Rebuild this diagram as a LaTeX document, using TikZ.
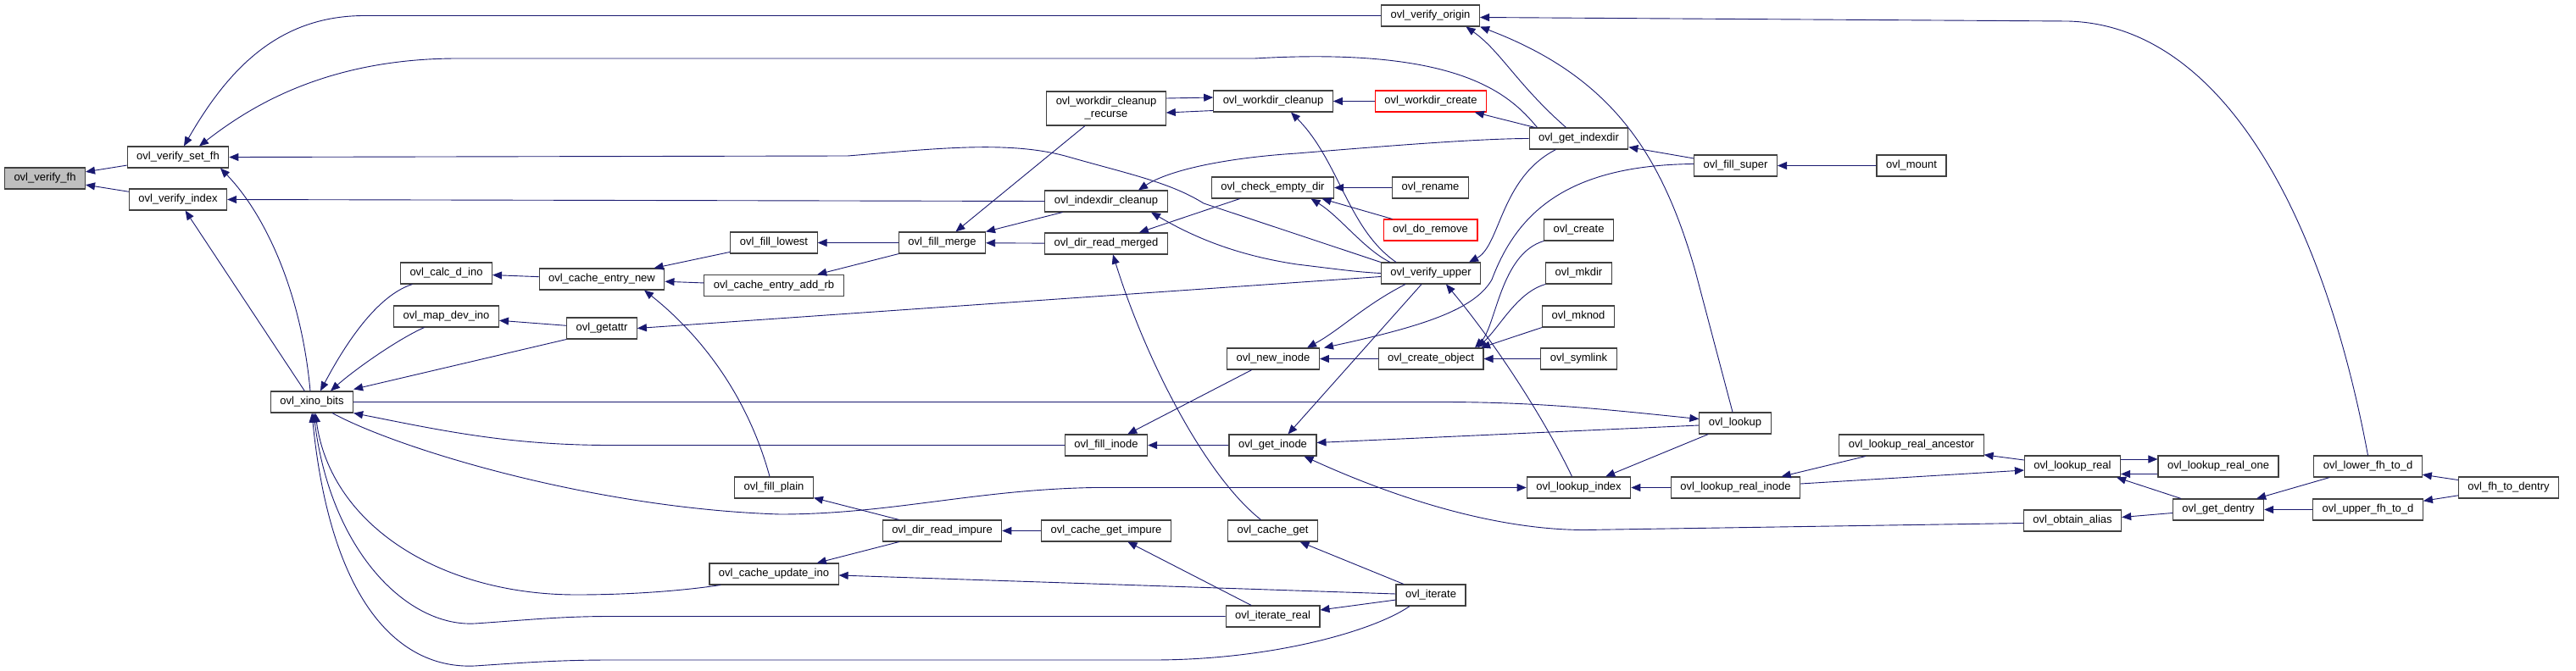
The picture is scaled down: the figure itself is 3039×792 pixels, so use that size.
\documentclass[tikz,border=0pt]{standalone}
\usepackage{fontspec}
\setmainfont{Liberation Sans}
\usetikzlibrary{arrows.meta}
\definecolor{EdgeBlue}{HTML}{191970}
\definecolor{BoxLine}{HTML}{404040}
\definecolor{RootFill}{HTML}{BFBFBF}

\begin{document}
\begin{tikzpicture}[x=1pt,y=-1pt,>={Triangle[length=11pt,width=9pt]},
  fn/.style={draw=BoxLine,line width=1.1pt,fill=white,minimum height=25pt,inner xsep=11pt,inner ysep=0pt,font=\fontsize{13}{15}\selectfont},
  root/.style={fn,fill=RootFill},
  redfn/.style={fn,draw=red},
  cb/.style={draw=EdgeBlue,line width=0.9pt,<-}]
  \fill[white] (0,0) rectangle (3039,792);

  \node[root] (fh) at (53,210.5) {ovl\_verify\_fh};
  \node[fn] (setfh) at (210,185.5) {ovl\_verify\_set\_fh};
  \node[fn] (vindex) at (210,235.5) {ovl\_verify\_index};
  \node[fn] (xino) at (368,474.5) {ovl\_xino\_bits};
  \node[fn] (calcd) at (526.5,322.5) {ovl\_calc\_d\_ino};
  \node[fn] (mapdev) at (526.5,373.5) {ovl\_map\_dev\_ino};
  \node[fn] (cenew) at (710,329.5) {ovl\_cache\_entry\_new};
  \node[fn] (getattr) at (710,387.5) {ovl\_getattr};
  \node[fn] (lowest) at (913,286.5) {ovl\_fill\_lowest};
  \node[fn] (addrb) at (913,337) {ovl\_cache\_entry\_add\_rb};
  \node[fn] (plain) at (913,575.5) {ovl\_fill\_plain};
  \node[fn] (updino) at (913,677.5) {ovl\_cache\_update\_ino};
  \node[fn] (merge) at (1111.5,286.5) {ovl\_fill\_merge};
  \node[fn] (rdimpure) at (1111.5,626.5) {ovl\_dir\_read\_impure};
  \node[fn,align=center,minimum height=40pt] (recurse) at (1305,128) {ovl\_workdir\_cleanup\\\_recurse};
  \node[fn] (idxclean) at (1305,237.5) {ovl\_indexdir\_cleanup};
  \node[fn] (rdmerged) at (1305,287.5) {ovl\_dir\_read\_merged};
  \node[fn] (fillinode) at (1305,525.5) {ovl\_fill\_inode};
  \node[fn] (getimpure) at (1305,626.5) {ovl\_cache\_get\_impure};
  \node[fn] (wdclean) at (1502,119.5) {ovl\_workdir\_cleanup};
  \node[fn] (checkempty) at (1501.5,221.5) {ovl\_check\_empty\_dir};
  \node[fn] (newinode) at (1502,423.5) {ovl\_new\_inode};
  \node[fn] (getinode) at (1501.5,525.5) {ovl\_get\_inode};
  \node[fn] (cacheget) at (1501.5,626.5) {ovl\_cache\_get};
  \node[fn] (itreal) at (1501.5,727.5) {ovl\_iterate\_real};
  \node[fn] (vorigin) at (1687.5,18.5) {ovl\_verify\_origin};
  \node[redfn] (wdcreate) at (1688,119.5) {ovl\_workdir\_create};
  \node[fn] (rename) at (1687.5,221.5) {ovl\_rename};
  \node[redfn] (doremove) at (1687.5,271.5) {ovl\_do\_remove};
  \node[fn] (vupper) at (1688,322.5) {ovl\_verify\_upper};
  \node[fn] (createobj) at (1688,423.5) {ovl\_create\_object};
  \node[fn] (iterate) at (1688,702.5) {ovl\_iterate};
  \node[fn] (getidx) at (1862.5,163.5) {ovl\_get\_indexdir};
  \node[fn] (create) at (1862.5,271.5) {ovl\_create};
  \node[fn] (mkdir) at (1862.5,322.5) {ovl\_mkdir};
  \node[fn] (mknod) at (1862,373.5) {ovl\_mknod};
  \node[fn] (symlink) at (1862.5,423.5) {ovl\_symlink};
  \node[fn] (lkindex) at (1862.5,575.5) {ovl\_lookup\_index};
  \node[fn] (fillsuper) at (2047.5,195.5) {ovl\_fill\_super};
  \node[fn] (lookup) at (2047,499.5) {ovl\_lookup};
  \node[fn] (lkrinode) at (2047.5,575.5) {ovl\_lookup\_real\_inode};
  \node[fn] (mount) at (2255,195.5) {ovl\_mount};
  \node[fn] (lkranc) at (2255,525.5) {ovl\_lookup\_real\_ancestor};
  \node[fn] (lkreal) at (2445,550.5) {ovl\_lookup\_real};
  \node[fn] (obtain) at (2445,614.5) {ovl\_obtain\_alias};
  \node[fn] (lkrone) at (2617,550.5) {ovl\_lookup\_real\_one};
  \node[fn] (getdentry) at (2617,601.5) {ovl\_get\_dentry};
  \node[fn] (lowerfh) at (2793.5,550.5) {ovl\_lower\_fh\_to\_d};
  \node[fn] (upperfh) at (2793.5,601.5) {ovl\_upper\_fh\_to\_d};
  \node[fn] (fhtod) at (2959.5,575.5) {ovl\_fh\_to\_dentry};

  \draw[cb] (fh) -- (setfh);
  \draw[cb] (fh) -- (vindex);
  \draw[cb] ([xshift=7pt]setfh.north) .. controls (270,80) and (330,18.5) .. (430,18.5) -- (vorigin.west);
  \draw[cb] ([xshift=25pt]setfh.north) .. controls (290,130) and (380,69) .. (540,69) -- (1480,69) .. controls (1720,55) and (1780,110) .. ([xshift=-49pt]getidx.north);
  \draw[cb] (setfh.east) -- (1000,184) .. controls (1100,176) and (1190,165) .. (1260,185) .. controls (1330,205) and (1380,215) .. (1420,240) -- (vupper.north west);
  \draw[cb] ([xshift=50pt]setfh.south) .. controls (310,250) and (355,340) .. ([xshift=-2pt]xino.north);
  \draw[cb] (vindex.east) -- (idxclean.west);
  \draw[cb] (vindex) -- (xino);
  \draw[cb] ([xshift=10pt]xino.north) .. controls (400,420) and (440,350) .. ([xshift=-40pt]calcd.south);
  \draw[cb] ([xshift=22pt]xino.north) .. controls (420,435) and (470,400) .. ([xshift=-26pt]mapdev.south);
  \draw[cb] ([yshift=2pt]xino.north east) -- (getattr.south west);
  \draw[cb] ([yshift=5pt]lookup.west) .. controls (1900,484) and (1820,474.5) .. (1700,474.5) -- (xino.east);
  \draw[cb] (xino.south east) .. controls (520,508) and (600,525.5) .. (720,525.5) -- (fillinode.west);
  \draw[cb] (lkindex.west) -- (1290,575.5) .. controls (1150,578) and (1050,607) .. (920,607) .. controls (700,600) and (470,530) .. ([xshift=24pt]xino.south);
  \draw[cb] ([xshift=4pt]xino.south) .. controls (390,620) and (520,702) .. (680,702) .. controls (760,702) and (820,695) .. ([xshift=-63pt]updino.south);
  \draw[cb] ([xshift=2pt]xino.south) .. controls (390,650) and (480,740) .. (560,736) .. controls (620,732) and (660,727.5) .. (720,727.5) -- (itreal.west);
  \draw[cb] (xino.south) .. controls (390,710) and (470,790) .. (560,786) .. controls (620,782) and (660,779) .. (720,779) -- (1360,779) .. controls (1500,779) and (1620,745) .. ([xshift=-25pt]iterate.south);
  \draw[cb] (calcd) -- (cenew);
  \draw[cb] (mapdev) -- (getattr);
  \draw[cb] (cenew) -- (lowest);
  \draw[cb] (cenew) -- (addrb);
  \draw[cb] ([xshift=50pt]cenew.south) .. controls (820,390) and (880,460) .. ([xshift=-5pt]plain.north);
  \draw[cb] (getattr.east) -- ([yshift=-4pt]vupper.west);
  \draw[cb] (lowest) -- (merge);
  \draw[cb] (addrb) -- (merge);
  \draw[cb] (plain) -- (rdimpure);
  \draw[cb] (updino) -- (rdimpure);
  \draw[cb] ([yshift=-1.5pt]updino.east) -- ([yshift=1.5pt]iterate.west);
  \draw[cb] (merge) -- (recurse);
  \draw[cb] (merge) -- (idxclean);
  \draw[cb] (merge) -- (rdmerged);
  \draw[cb] ([xshift=8pt]rdmerged.south) .. controls (1350,420) and (1420,560) .. ([xshift=-14pt]cacheget.north);
  \draw[cb] (rdmerged) -- (checkempty);
  \draw[cb] ([xshift=38pt]idxclean.north) .. controls (1380,200) and (1450,186) .. (1530,181) .. controls (1650,171) and (1750,163.5) .. (getidx.west);
  \draw[cb] ([xshift=53pt]idxclean.south) .. controls (1400,275) and (1450,300) .. (1530,312) .. controls (1580,318) and (1600,321) .. (vupper.west);
  \draw[cb] ([yshift=4.5pt]wdclean.west) -- ([yshift=12pt]recurse.east);
  \draw[cb] ([yshift=-5pt]recurse.east) -- ([yshift=-11pt]wdclean.west);
  \draw[cb] (wdclean) -- (wdcreate);
  \draw[cb] ([xshift=21pt]wdclean.south) .. controls (1580,190) and (1590,270) .. ([xshift=-41pt]vupper.north);
  \draw[cb] (wdcreate) -- (getidx);
  \draw[cb] ([xshift=42pt]vorigin.south) .. controls (1770,60) and (1790,100) .. ([xshift=-15pt]getidx.north);
  \draw[cb] (vorigin.south east) .. controls (1900,90) and (1960,180) .. (2000,320) -- ([xshift=-3pt]lookup.north);
  \draw[cb] ([yshift=-2pt]vorigin.east) -- (2440,25) .. controls (2620,30) and (2740,250) .. (lowerfh.north);
  \draw[cb] ([xshift=45pt]checkempty.south) .. controls (1580,255) and (1610,295) .. ([xshift=-48pt]vupper.north);
  \draw[cb] (checkempty) -- (rename);
  \draw[cb] ([xshift=58pt]checkempty.south) -- ([xshift=-45pt]doremove.north);
  \draw[cb] ([xshift=45pt]vupper.north) .. controls (1770,290) and (1770,210) .. ([xshift=-27pt]getidx.south);
  \draw[cb] ([xshift=18pt]vupper.south) .. controls (1760,400) and (1820,490) .. ([xshift=-8pt]lkindex.north);
  \draw[cb] ([xshift=40pt]newinode.north) .. controls (1580,390) and (1610,360) .. ([xshift=-30pt]vupper.south);
  \draw[cb] ([xshift=60pt]newinode.north) .. controls (1680,385) and (1740,365) .. (1760,330) .. controls (1790,250) and (1850,195) .. ([yshift=2pt]fillsuper.west);
  \draw[cb] ([xshift=18pt]getinode.north) -- ([xshift=-11pt]vupper.south);
  \draw[cb] ([yshift=3pt]getinode.east) -- ([yshift=-2.5pt]lookup.west);
  \draw[cb] ([xshift=37pt]getinode.south) .. controls (1640,585) and (1760,625.5) .. (1870,625.5) -- ([yshift=-3pt]obtain.west);
  \draw[cb] (newinode) -- (createobj);
  \draw[cb] (fillinode) -- (newinode);
  \draw[cb] (fillinode) -- (getinode);
  \draw[cb] ([xshift=52pt]createobj.north) .. controls (1765,385) and (1770,300) .. (create.south west);
  \draw[cb] ([xshift=55pt]createobj.north) .. controls (1770,385) and (1790,345) .. (mkdir.south west);
  \draw[cb] ([xshift=59pt]createobj.north) -- (mknod.south west);
  \draw[cb] (createobj) -- (symlink);
  \draw[cb] (lkindex) -- (lkrinode);
  \draw[cb] (lkindex) -- (lookup);
  \draw[cb] (cacheget) -- (iterate);
  \draw[cb] (itreal) -- (iterate);
  \draw[cb] (getimpure) -- (itreal);
  \draw[cb] (rdimpure) -- (getimpure);
  \draw[cb] (lkrinode) -- (lkranc);
  \draw[cb] ([yshift=-4.5pt]lkreal.west) -- ([yshift=4.5pt]lkrinode.east);
  \draw[cb] (lkranc) -- (lkreal);
  \draw[cb] ([yshift=8.5pt]lkrone.west) -- ([yshift=8.5pt]lkreal.east);
  \draw[cb] ([yshift=-9pt]lkreal.east) -- ([yshift=-9pt]lkrone.west);
  \draw[cb] ([xshift=-5pt]lkreal.south east) -- ([xshift=-44pt]getdentry.north);
  \draw[cb] ([yshift=4pt]obtain.east) -- ([yshift=-4pt]getdentry.west);
  \draw[cb] (getdentry) -- (lowerfh);
  \draw[cb] (getdentry) -- (upperfh);
  \draw[cb] (lowerfh) -- (fhtod);
  \draw[cb] (upperfh) -- (fhtod);
  \draw[cb] (fillsuper) -- (mount);
  \draw[cb] (getidx) -- (fillsuper);
\end{tikzpicture}
\end{document}
